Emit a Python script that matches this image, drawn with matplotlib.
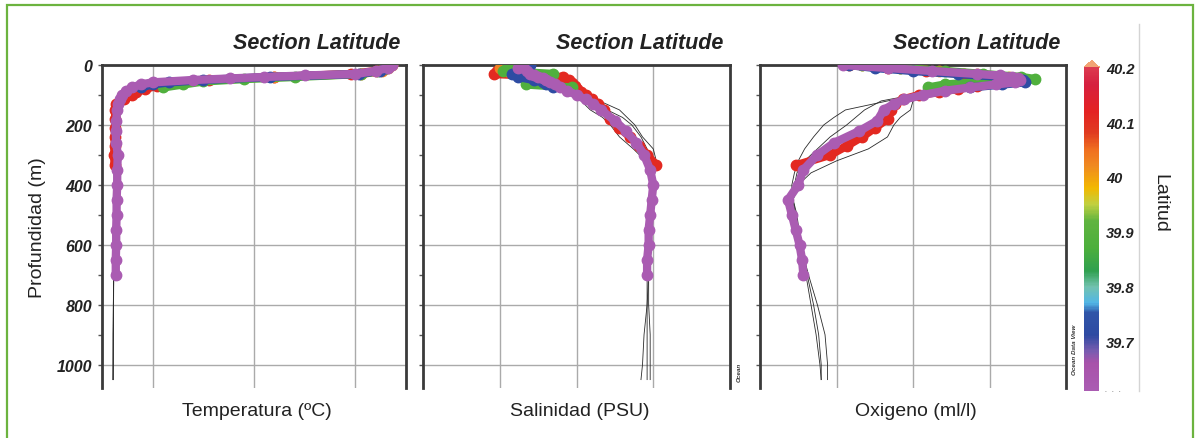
import matplotlib
matplotlib.use("Agg")
import matplotlib.pyplot as plt
from matplotlib.colors import LinearSegmentedColormap, Normalize
from matplotlib.cm import ScalarMappable
from matplotlib.ticker import MultipleLocator
from matplotlib.patches import Rectangle
from matplotlib.lines import Line2D

plt.rcParams['font.family'] = ['Liberation Sans', 'DejaVu Sans']

# station latitudes (colour of each profile)
lat_red, lat_orange, lat_green, lat_blue, lat_purple = 40.11, 40.03, 39.88, 39.72, 39.61

# depths (m) of each coloured profile
depth_red = [0, 10, 20, 30, 40, 50, 60, 70, 80, 90, 100, 115, 130, 150, 180, 210, 240, 270, 300, 335]
depth_orange = [0, 10, 20, 30, 40]
depth_green = [0, 10, 20, 30, 40, 47, 55, 65, 75]
depth_blue = [0, 10, 20, 30, 40, 50, 58, 65, 75]
depth_purple = [0, 10, 20, 30, 35, 40, 45, 50, 58, 65, 75, 86, 100, 115, 130, 150, 186, 220,
                260, 300, 350, 400, 450, 500, 550, 600, 650, 700]

# temperature (C)
temp_red = [26.6, 26.4, 26.0, 24.8, 21.0, 17.8, 16.0, 15.2, 14.6, 14.2, 14.0, 13.6, 13.2, 13.15,
            13.15, 13.14, 13.13, 13.12, 13.1, 13.12]
temp_orange = [26.8, 26.6, 26.3, 25.3, 21.0]
temp_green = [26.7, 26.5, 26.1, 25.3, 22.0, 19.5, 17.5, 16.5, 15.5]
temp_blue = [26.7, 26.5, 26.2, 25.2, 20.8, 17.5, 15.8, 15.0, 14.4]
temp_purple = [26.8, 26.6, 26.0, 25.0, 22.5, 20.5, 18.8, 17.0, 15.0, 14.4, 14.0, 13.7, 13.5, 13.38,
               13.3, 13.25, 13.2, 13.18, 13.2, 13.28, 13.25, 13.25, 13.22, 13.22, 13.2, 13.2,
               13.18, 13.18]

# salinity (PSU)
sal_red = [37.6, 37.52, 37.48, 37.46, 37.91, 37.95, 37.97, 37.99, 38.0, 38.03, 38.06, 38.1, 38.14,
           38.18, 38.22, 38.28, 38.35, 38.41, 38.46, 38.52]
sal_orange = [37.52, 37.5, 37.55, 37.62, 37.7]
sal_green = [37.6, 37.55, 37.52, 37.85, 37.82, 37.75, 37.72, 37.67, 37.97]
sal_blue = [37.7, 37.68, 37.62, 37.58, 37.62, 37.72, 37.78, 37.8, 37.85]
sal_purple = [37.65, 37.62, 37.68, 37.7, 37.72, 37.75, 37.78, 37.8, 37.83, 37.86, 37.89, 37.94, 38.0,
              38.06, 38.11, 38.16, 38.25, 38.32, 38.39, 38.44, 38.48, 38.5, 38.49, 38.48, 38.47,
              38.47, 38.46, 38.46]

# oxygen (ml/l)
oxy_red = [4.5, 4.8, 5.1, 5.4, 5.7, 5.75, 5.65, 5.5, 5.35, 5.2, 5.05, 4.92, 4.86, 4.83, 4.8, 4.7,
           4.6, 4.48, 4.35, 4.08]
oxy_orange = [4.6, 4.9, 5.2, 5.5, 5.75]
oxy_green = [4.6, 4.9, 5.25, 5.55, 5.85, 5.96, 5.6, 5.25, 5.12]
oxy_blue = [4.5, 4.7, 5.0, 5.35, 5.7, 5.86, 5.88, 5.7, 5.45]
oxy_purple = [4.45, 4.8, 5.15, 5.5, 5.68, 5.78, 5.82, 5.84, 5.8, 5.65, 5.45, 5.25, 5.08, 4.93, 4.85,
              4.77, 4.72, 4.58, 4.38, 4.25, 4.14, 4.1, 4.02, 4.05, 4.08, 4.11, 4.13, 4.14]

# thin black casts reaching ~1050 m
depth_cast = [0, 25, 50, 75, 100, 120, 150, 175, 200, 240, 280, 320, 360, 400, 450, 500, 600, 700,
              800, 900, 1000, 1050]
temp_cast1 = [26.5, 25.2, 17.0, 14.2, 13.5, 13.3, 13.2, 13.15, 13.12, 13.1, 13.12, 13.15, 13.18,
              13.18, 13.15, 13.13, 13.1, 13.08, 13.06, 13.05, 13.05, 13.05]
temp_cast2 = [26.5, 25.0, 16.5, 14.0, 13.4, 13.25, 13.18, 13.12, 13.1, 13.1, 13.1, 13.12, 13.15,
              13.16, 13.14, 13.12, 13.1, 13.07, 13.06, 13.05, 13.05, 13.04]
temp_cast3 = [26.5, 25.4, 17.5, 14.4, 13.6, 13.35, 13.22, 13.16, 13.12, 13.1, 13.12, 13.14, 13.16,
              13.17, 13.15, 13.13, 13.1, 13.08, 13.07, 13.06, 13.05, 13.05]
sal_cast1 = [37.7, 37.72, 37.82, 37.95, 38.06, 38.15, 38.28, 38.33, 38.38, 38.43, 38.5, 38.52, 38.51,
             38.5, 38.49, 38.48, 38.47, 38.47, 38.46, 38.44, 38.43, 38.42]
sal_cast2 = [37.7, 37.72, 37.8, 37.9, 37.98, 38.03, 38.09, 38.17, 38.22, 38.28, 38.37, 38.45, 38.48,
             38.49, 38.49, 38.48, 38.47, 38.47, 38.47, 38.48, 38.48, 38.48]
sal_cast3 = [37.7, 37.72, 37.82, 37.92, 38.02, 38.1, 38.2, 38.3, 38.36, 38.42, 38.46, 38.49, 38.5,
             38.5, 38.49, 38.48, 38.47, 38.46, 38.46, 38.46, 38.46, 38.46]
oxy_cast1 = [4.6, 5.5, 5.85, 5.4, 5.05, 4.8, 4.47, 4.38, 4.3, 4.22, 4.15, 4.1, 4.07, 4.05, 4.05,
             4.08, 4.13, 4.17, 4.22, 4.26, 4.28, 4.28]
oxy_cast2 = [4.6, 5.5, 5.85, 5.4, 5.1, 5.0, 4.98, 4.9, 4.85, 4.8, 4.65, 4.4, 4.2, 4.1, 4.06, 4.08,
             4.12, 4.18, 4.25, 4.31, 4.33, 4.33]
oxy_cast3 = [4.6, 5.5, 5.85, 5.4, 5.0, 4.75, 4.62, 4.55, 4.48, 4.35, 4.25, 4.15, 4.09, 4.07, 4.06,
             4.09, 4.12, 4.16, 4.2, 4.24, 4.27, 4.28]

depth_ticks = [0, 200, 400, 600, 800, 1000]
lat_ticks = [39.7, 39.8, 39.9, 40.0, 40.1, 40.2]
lat_tick_labels = ['39.7', '39.8', '39.9', '40', '40.1', '40.2']

# ODV-like latitude palette
cmap = LinearSegmentedColormap.from_list('odv', [
    (0.00, '#aa5cb2'), (0.085, '#a852aa'), (0.12, '#7a5cb0'), (0.17, '#2e4aa2'),
    (0.24, '#2f55a8'), (0.27, '#52b6e6'), (0.32, '#72c2b0'), (0.37, '#30a050'),
    (0.44, '#4caf3c'), (0.525, '#60b440'), (0.576, '#c0d040'), (0.627, '#f2b800'),
    (0.695, '#f08a20'), (0.746, '#f07020'), (0.797, '#e03c20'), (0.864, '#e42222'),
    (0.95, '#d62040'), (1.00, '#dc3a50')])
cmap.set_over('#f2a474')
norm = Normalize(vmin=39.61, vmax=40.2)

W, H = 1196, 439
fig = plt.figure(figsize=(W / 100, H / 100), dpi=100)


def draw_panel(left_px, width_px, xlim, xgrid, profiles, casts, xlabel, show_labels):
    ax = fig.add_axes([left_px / W, 1 - 389 / H, width_px / W, 323 / H])
    for vals in casts:
        ax.plot(vals, depth_cast, color='#2a2a2a', lw=0.6, zorder=2)
    for lat, d, v in profiles:
        c = cmap(norm(lat))
        ax.plot(v, d, color=c, lw=6, marker='o', ms=7.5, solid_capstyle='round',
                solid_joinstyle='round', zorder=3)
    ax.set_xlim(xlim)
    ax.set_ylim(1078, 0)
    ax.set_xticks(xgrid)
    ax.set_yticks(depth_ticks)
    ax.yaxis.set_minor_locator(MultipleLocator(100))
    ax.set_axisbelow(True)
    ax.grid(True, color='#aaaaaa', lw=1.0)
    ax.tick_params(axis='x', length=0, labelbottom=False)
    ax.tick_params(axis='y', which='both', length=3, width=1, color='#555555',
                   labelleft=show_labels, pad=4)
    if show_labels:
        for t in ax.get_yticklabels():
            t.set_fontweight('bold')
            t.set_fontstyle('italic')
            t.set_fontsize(11.5)
            t.set_color('#222222')
    ax.spines['bottom'].set_visible(False)
    for s in ['left', 'right', 'top']:
        ax.spines[s].set_linewidth(2)
        ax.spines[s].set_color('#3a3a3a')
    ax.text(0.98, 1.07, 'Section Latitude', transform=ax.transAxes, ha='right', va='center',
            fontsize=15.5, fontweight='bold', fontstyle='italic', color='#222222')
    ax.text(0.51, -0.071, xlabel, transform=ax.transAxes, ha='center', va='center',
            fontsize=14, color='#222222')
    return ax


ax1 = draw_panel(102, 304, (12.5, 27.5), [15, 20, 25],
                 [(lat_red, depth_red, temp_red), (lat_orange, depth_orange, temp_orange),
                  (lat_green, depth_green, temp_green), (lat_blue, depth_blue, temp_blue),
                  (lat_purple, depth_purple, temp_purple)],
                 [temp_cast1, temp_cast2, temp_cast3], 'Temperatura (ºC)', True)
ax1.set_ylabel('Profundidad (m)', fontsize=14, color='#222222', labelpad=8)

ax2 = draw_panel(423, 307, (37.0, 39.0), [37.5, 38.0, 38.5],
                 [(lat_red, depth_red, sal_red), (lat_orange, depth_orange, sal_orange),
                  (lat_green, depth_green, sal_green), (lat_blue, depth_blue, sal_blue),
                  (lat_purple, depth_purple, sal_purple)],
                 [sal_cast1, sal_cast2, sal_cast3], 'Salinidad (PSU)', False)

ax3 = draw_panel(760, 306, (3.8, 6.2), [4.4, 5.0, 5.6],
                 [(lat_red, depth_red, oxy_red), (lat_orange, depth_orange, oxy_orange),
                  (lat_green, depth_green, oxy_green), (lat_blue, depth_blue, oxy_blue),
                  (lat_purple, depth_purple, oxy_purple)],
                 [oxy_cast1, oxy_cast2, oxy_cast3], 'Oxigeno (ml/l)', False)

# small ODV watermark texts
ax3.text(1.028, 0.12, 'Ocean Data View', transform=ax3.transAxes, rotation=90, ha='center',
         va='center', fontsize=4.5, fontstyle='italic', fontweight='bold', color='#333333')
ax2.text(1.03, 0.05, 'Ocean', transform=ax2.transAxes, rotation=90, ha='center',
         va='center', fontsize=4.5, fontstyle='italic', fontweight='bold', color='#333333')

# colorbar
cax = fig.add_axes([1084 / W, 1 - 391.7 / H, 15.3 / W, 330 / H])
cb = fig.colorbar(ScalarMappable(norm=norm, cmap=cmap), cax=cax, extend='max',
                  extendfrac=0.02)
cb.outline.set_visible(False)
cb.set_ticks(lat_ticks)
cb.set_ticklabels(lat_tick_labels)
cax.tick_params(length=0, pad=5)
for t in cax.get_yticklabels():
    t.set_fontweight('bold')
    t.set_fontstyle('italic')
    t.set_fontsize(10.5)
    t.set_color('#222222')
fig.text(1104 / W, 1 - 392 / H, '· · ·', fontsize=8, color='#888888', va='center')
fig.text(1160 / W, 1 - 203 / H, 'Latitud', rotation=270, ha='center', va='center',
         fontsize=14, color='#222222')

# light separator and green frame
fig.add_artist(Line2D([1139 / W, 1139 / W], [1 - 25 / H, 1 - 392 / H], color='#d4d4d4', lw=1))
fig.add_artist(Rectangle((7 / W, -0.1), 1186 / W, 1.1 - 6 / H, transform=fig.transFigure,
                         fill=False, ec='#6cb33f', lw=1.6))

fig.savefig('out.png', dpi=100)
